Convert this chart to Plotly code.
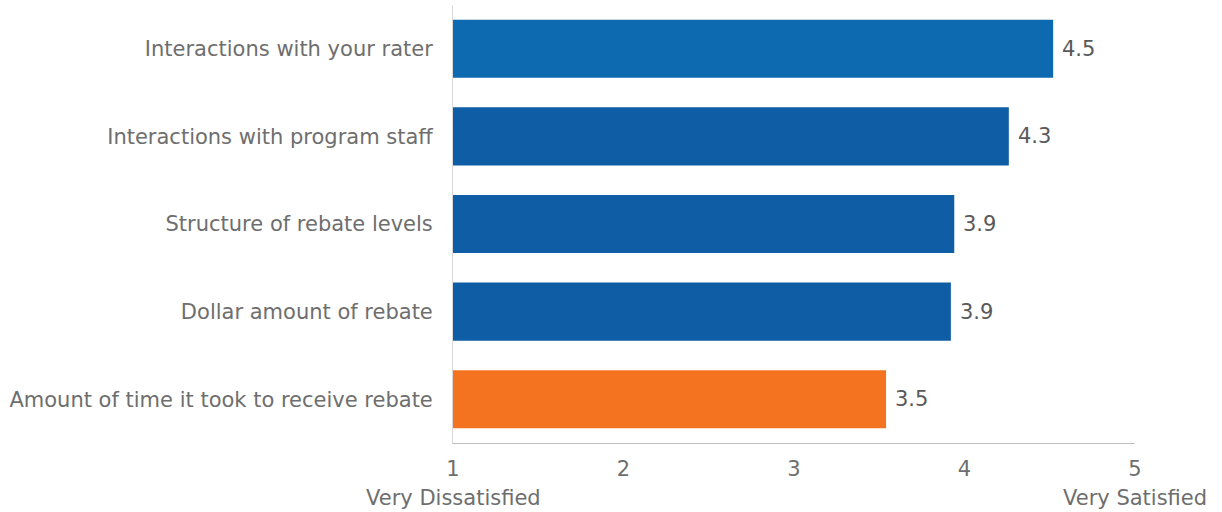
import plotly.graph_objects as go

categories = [
    "Interactions with your rater",
    "Interactions with program staff",
    "Structure of rebate levels",
    "Dollar amount of rebate",
    "Amount of time it took to receive rebate",
]
values = [4.52, 4.26, 3.94, 3.92, 3.54]
bar_colors = ["#0E6AB0", "#0F5EA5", "#0F5EA5", "#0F5EA5", "#F37321"]
x_ticks = [1, 2, 3, 4, 5]
scale_labels = {1: "Very Dissatisfied", 5: "Very Satisfied"}

FONT = "DejaVu Sans"
GRAY = "#6E6E6E"
FS = 21

fig = go.Figure()
fig.add_trace(go.Bar(
    y=categories, x=values, orientation="h",
    marker=dict(color=bar_colors, line=dict(width=0)),
    width=0.663, hoverinfo="x+y",
))

for c, v in zip(categories, values):
    fig.add_annotation(x=v, y=c, text=f"{v:.1f}", showarrow=False,
                       xanchor="left", xshift=7,
                       font=dict(family=FONT, size=FS, color="#595959"))

for xv, txt in scale_labels.items():
    fig.add_annotation(x=xv, y=0, yref="paper", yanchor="middle", yshift=-55,
                       text=txt, showarrow=False, xanchor="center",
                       font=dict(family=FONT, size=FS, color=GRAY))

fig.update_layout(
    width=1222, height=512,
    margin=dict(l=453, r=87, t=5, b=69),
    paper_bgcolor="white", plot_bgcolor="white",
    showlegend=False,
    font=dict(family=FONT, size=FS, color=GRAY),
    xaxis=dict(range=[1, 5], tickvals=x_ticks, showgrid=False, zeroline=False,
               showline=True, linecolor="#BFBFBF", linewidth=1,
               ticks="", ticklabelstandoff=7,
               tickfont=dict(family=FONT, size=FS, color=GRAY)),
    yaxis=dict(autorange="reversed", showgrid=False, zeroline=False,
               showline=True, linecolor="#D9D9D9", linewidth=1,
               ticks="", ticklabelstandoff=15,
               tickfont=dict(family=FONT, size=FS, color=GRAY)),
)

fig.write_html("out.html", config={"displayModeBar": False},
               post_script="document.body.style.margin='0';document.body.style.overflow='hidden';")
